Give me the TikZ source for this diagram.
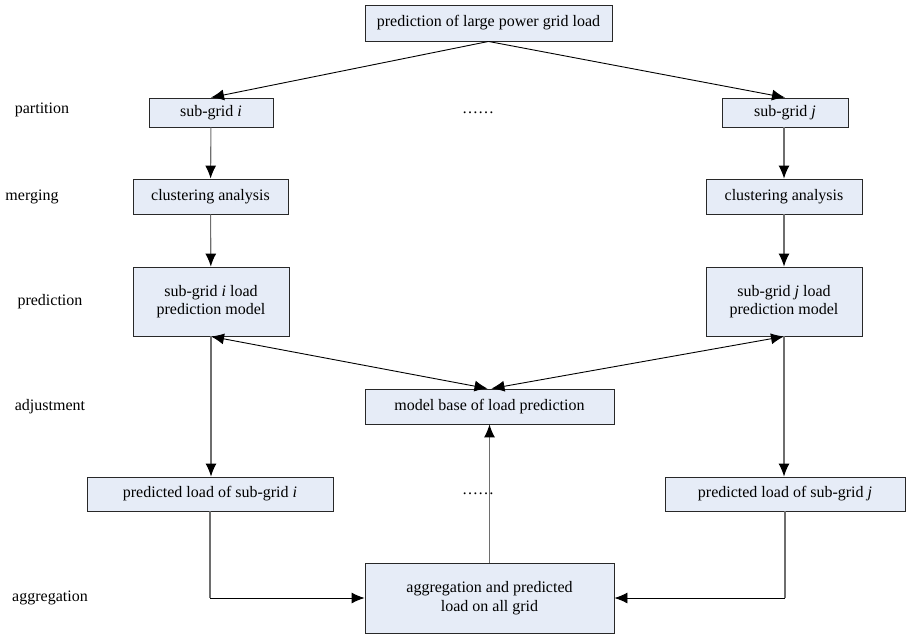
\documentclass[tikz,border=0pt]{standalone}
\usepackage{fontspec}
\setmainfont{Liberation Serif}
\usetikzlibrary{arrows.meta}
\definecolor{boxfill}{RGB}{230,236,247}
\definecolor{boxline}{RGB}{40,40,40}
\definecolor{vline}{RGB}{110,110,110}
\tikzset{
  box/.style={draw=boxline, line width=0.9pt, fill=boxfill, align=center, inner sep=0pt,
    font=\fontsize{16}{18.5}\selectfont},
  lbl/.style={font=\fontsize{16}{18.5}\selectfont, inner sep=0pt},
  tip/.style={-{Latex[length=13pt,width=11pt,color=black]}},
  arr/.style={draw=black, line width=0.9pt, tip},
  vseg/.style={draw=vline, line width=1.1pt},
  varr/.style={vseg, tip},
  darr/.style={draw=black, line width=0.9pt, {Latex[length=13pt,width=11pt]}-{Latex[length=13pt,width=11pt]}}
}
\begin{document}
\begin{tikzpicture}[x=1pt,y=-1pt]
\useasboundingbox (0,0) rectangle (910,635);
% boxes
\node[box, minimum width=247pt, minimum height=36pt] (top) at (488.5,23) {prediction of large power grid load};
\node[box, minimum width=124pt, minimum height=29pt] (sgi) at (211,112.5) {sub-grid \textit{i}};
\node[box, minimum width=126pt, minimum height=29pt] (sgj) at (785,112.5) {sub-grid \textit{j}};
\node[box, minimum width=155pt, minimum height=35pt] (ci) at (210.5,196.5) {clustering analysis};
\node[box, minimum width=156pt, minimum height=35pt] (cj) at (784,196.5) {clustering analysis};
\node[box, minimum width=156pt, minimum height=69pt] (pi) at (211,301.5) {sub-grid \textit{i} load\\prediction model};
\node[box, minimum width=156pt, minimum height=69pt] (pj) at (784,301.5) {sub-grid \textit{j} load\\prediction model};
\node[box, minimum width=249pt, minimum height=35pt] (mb) at (489.5,406.5) {model base of load prediction};
\node[box, minimum width=246pt, minimum height=34pt] (li) at (210,494) {predicted load of sub-grid \textit{i}};
\node[box, minimum width=240pt, minimum height=34pt] (lj) at (785,494) {predicted load of sub-grid \textit{j}};
\node[box, minimum width=249pt, minimum height=70pt] (ag) at (489.5,598) {aggregation and predicted\\load on all grid};
% dots
\node[lbl] (d1) at (478,113) {……};
\node[lbl] (d2) at (478,494) {……};
% stage labels
\node[lbl] (l1) at (42,110) {partition};
\node[lbl] (l2) at (32,197) {merging};
\node[lbl] (l3) at (50,302) {prediction};
\node[lbl] (l4) at (50,407) {adjustment};
\node[lbl] (l5) at (50,598) {aggregation};
% corner points
\coordinate (cl) at (li.south |- ag.west);
\coordinate (cr) at (lj.south |- ag.east);
% connectors
\draw[arr] (top.south) -- (sgi.north);
\draw[arr] (top.south) -- (sgj.north);
\draw[varr] (sgi) -- (ci);
\draw[varr] (sgj.south -| cj) -- (cj);
\draw[varr] (ci) -- (pi);
\draw[varr] (cj) -- (pj);
\draw[darr] (pi.south) -- ([xshift=-2pt]mb.north);
\draw[darr] (pj.south) -- ([xshift=2pt]mb.north);
\draw[varr] (ag.north) -- (mb.south);
\draw[varr] (pi.south) -- (pi.south |- li.north);
\draw[varr] (pj.south) -- (pj.south |- lj.north);
\draw[vseg] (li.south) -- (cl);
\draw[arr] (cl) -- (ag.west);
\draw[vseg] (lj.south) -- (cr);
\draw[arr] (cr) -- (ag.east);
\end{tikzpicture}
\end{document}
